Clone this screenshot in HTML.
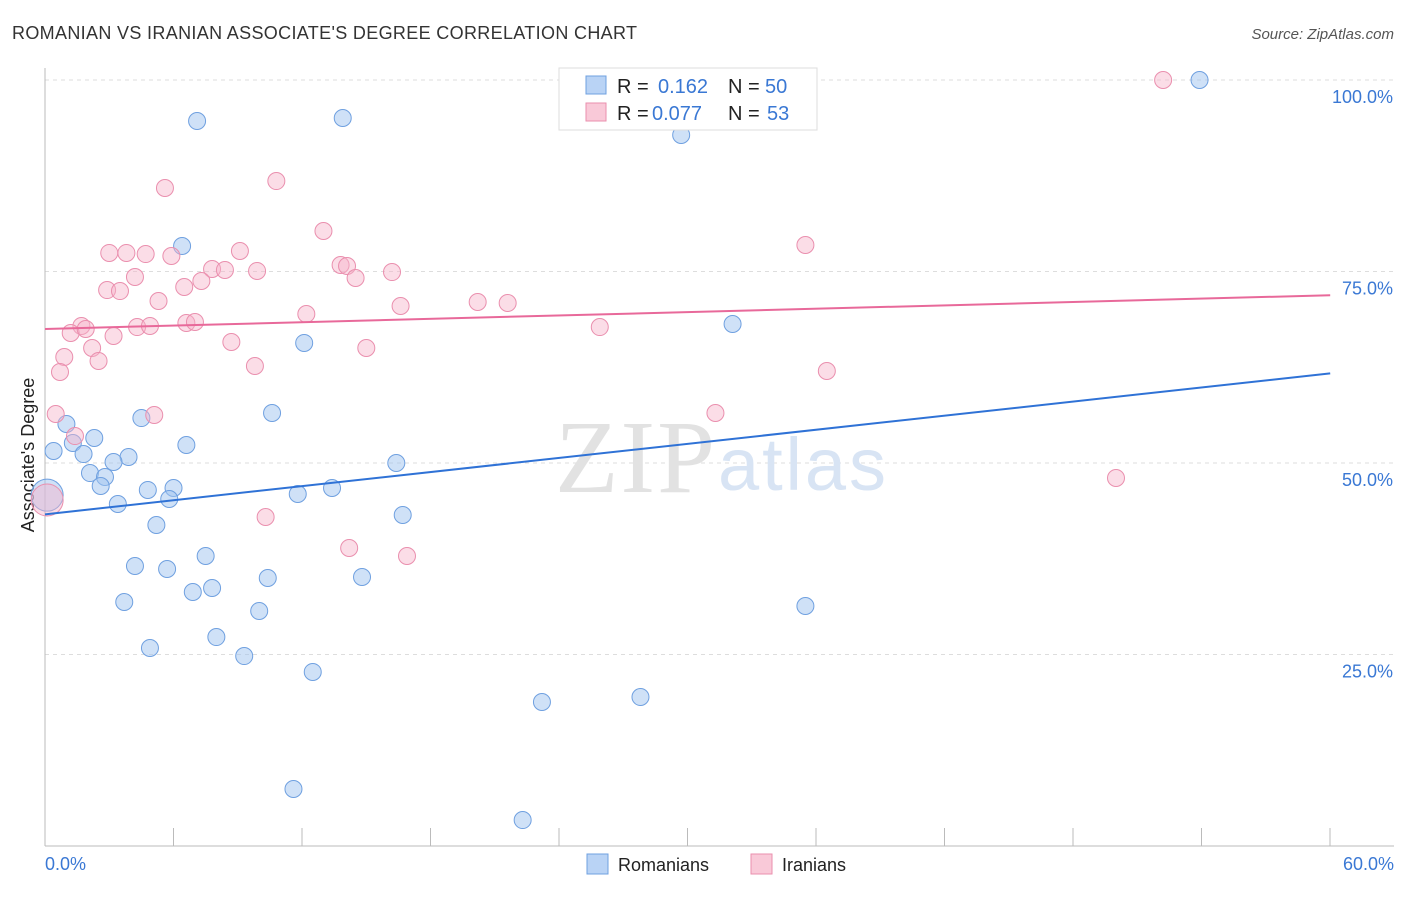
<!DOCTYPE html>
<html><head><meta charset="utf-8"><style>
body{margin:0;background:#fff;font-family:"Liberation Sans",sans-serif;}
</style></head><body>
<svg width="1406" height="892" xmlns="http://www.w3.org/2000/svg" style="font-family:'Liberation Sans',sans-serif">
<text x="12" y="39" font-size="18" fill="#333" textLength="625">ROMANIAN VS IRANIAN ASSOCIATE'S DEGREE CORRELATION CHART</text>
<text x="1394" y="39" font-size="15" fill="#555" text-anchor="end" font-style="italic">Source: ZipAtlas.com</text>
<g id="grid"></g>
<line x1="45" y1="68" x2="45" y2="846" stroke="#bbb"/>
<line x1="45" y1="846" x2="1394" y2="846" stroke="#bbb"/>
<text x="555" y="492" font-size="104" fill="#e2e2e2" font-family="Liberation Serif,serif" textLength="160">ZIP</text>
<text x="718" y="490" font-size="74" fill="#d8e4f4" textLength="168">atlas</text>
<text transform="translate(34,455) rotate(-90)" font-size="18" fill="#222" text-anchor="middle">Associate's Degree</text>
<text x="45" y="870" font-size="18" fill="#3a78d4">0.0%</text>
<text x="1394" y="870" font-size="18" fill="#3a78d4" text-anchor="end">60.0%</text>
<g id="marks"></g>
<g>
<rect x="559" y="68" width="258" height="62" fill="#fff" stroke="#ddd"/>
<rect x="586" y="76" width="20" height="18" fill="#b9d3f5" stroke="#6fa0e0"/>
<text x="617" y="93" font-size="20" fill="#222">R =</text>
<text x="658" y="93" font-size="20" fill="#3a78d4">0.162</text>
<text x="728" y="93" font-size="20" fill="#222">N =</text>
<text x="765" y="93" font-size="20" fill="#3a78d4">50</text>
<rect x="586" y="103" width="20" height="18" fill="#f9c9d8" stroke="#ea8fae"/>
<text x="617" y="120" font-size="20" fill="#222">R =</text>
<text x="652" y="120" font-size="20" fill="#3a78d4">0.077</text>
<text x="728" y="120" font-size="20" fill="#222">N =</text>
<text x="767" y="120" font-size="20" fill="#3a78d4">53</text>
</g>
<g>
<rect x="587" y="854" width="21" height="20" fill="#b9d3f5" stroke="#6fa0e0"/>
<text x="618" y="871" font-size="18" fill="#222">Romanians</text>
<rect x="751" y="854" width="21" height="20" fill="#f9c9d8" stroke="#ea8fae"/>
<text x="782" y="871" font-size="18" fill="#222">Iranians</text>
</g>
</svg>
<script>
const yTicks=[25,50,75,100];
const yTickLabels=["25.0%","50.0%","75.0%","100.0%"];
const romX=[7.1,13.9,29.7,53.9,6.4,12.1,32.1,10.6,4.5,1.0,0.4,1.3,2.3,1.8,3.9,3.2,6.6,16.4,2.1,2.8,2.6,4.8,6.0,5.8,11.8,13.4,3.4,16.7,5.2,7.5,4.2,5.7,10.4,14.8,6.9,7.8,3.7,10.0,35.5,8.0,4.9,9.3,12.5,23.2,27.8,11.6,22.3,0.1];
const romY=[94.65,95.04,92.82,100,78.33,65.67,68.15,56.53,55.87,55.09,51.57,52.61,53.26,51.17,50.78,50.13,52.35,50.0,48.69,48.17,47.0,46.48,46.74,45.3,45.95,46.74,44.65,43.21,41.91,37.86,36.55,36.16,34.99,35.12,33.16,33.68,31.85,30.68,31.33,27.28,25.85,24.8,22.72,18.8,19.45,7.44,3.39,45.8];
const iraX=[52.2,5.6,10.8,13.0,35.5,3.0,3.8,4.7,5.9,9.1,4.2,7.8,8.4,9.9,13.8,14.1,14.5,16.2,2.9,3.5,6.5,7.3,5.3,20.2,21.6,16.6,12.2,1.7,1.2,1.9,3.2,4.3,4.9,6.6,7.0,25.9,8.7,2.2,15.0,0.9,2.5,9.8,0.7,36.5,0.5,5.1,31.3,1.4,10.3,14.2,16.9,50.0,0.1];
const iraY=[100,85.9,86.81,80.29,78.46,77.42,77.42,77.28,77.02,77.68,74.28,75.33,75.2,75.07,75.85,75.72,74.15,74.93,72.58,72.45,72.98,73.76,71.15,71.02,70.89,70.5,69.45,67.89,66.97,67.49,66.58,67.75,67.89,68.28,68.41,67.75,65.8,65.01,65.01,63.84,63.32,62.66,61.88,62.01,56.4,56.27,56.53,53.52,42.95,38.9,37.86,48.04,45.17];
const romTrend=[43.3,61.7], iraTrend=[67.5,71.9];
const X=v=>45+v*21.42, Y=v=>846-v*7.66;
const ns="http://www.w3.org/2000/svg";
const grid=document.getElementById('grid'), marks=document.getElementById('marks'), svg=document.querySelector('svg');
yTicks.forEach((t,i)=>{
 const l=document.createElementNS(ns,'line');
 l.setAttribute('x1',45);l.setAttribute('x2',1394);l.setAttribute('y1',Y(t));l.setAttribute('y2',Y(t));
 l.setAttribute('stroke','#ddd');l.setAttribute('stroke-dasharray','4,4');
 
 
 grid.appendChild(l);
 const tx=document.createElementNS(ns,'text');
 tx.setAttribute('x',1393);tx.setAttribute('y',Y(t)+23);tx.setAttribute('text-anchor','end');
 tx.setAttribute('font-size','18');tx.setAttribute('fill','#3a78d4');tx.textContent=yTickLabels[i];
 
 
 svg.appendChild(tx);
});
for(let i=1;i<=10;i++){
 const l=document.createElementNS(ns,'line');
 const x=45+i*128.5;
 l.setAttribute('x1',x);l.setAttribute('x2',x);l.setAttribute('y1',828);l.setAttribute('y2',846);l.setAttribute('stroke','#bbb');
 
 
 grid.appendChild(l);
}
function pts(xs,ys,fill,stroke,name){
 xs.forEach((x,i)=>{
  const c=document.createElementNS(ns,'circle');
  const big=(i===xs.length-1&&x<0.5);
  c.setAttribute('cx',X(x));c.setAttribute('cy',Y(ys[i]));c.setAttribute('r',big?16:8.5);
  c.setAttribute('fill',fill);c.setAttribute('stroke',stroke);c.setAttribute('stroke-width','1');
  
  
  marks.appendChild(c);
 });
}
pts(romX,romY,'rgba(160,196,240,0.5)','#6fa0e0','romanian-point');
pts(iraX,iraY,'rgba(246,180,202,0.45)','#ea8fae','iranian-point');
function trend(v,col,name){
 const l=document.createElementNS(ns,'line');
 l.setAttribute('x1',X(0));l.setAttribute('x2',X(60));l.setAttribute('y1',Y(v[0]));l.setAttribute('y2',Y(v[1]));
 l.setAttribute('stroke',col);l.setAttribute('stroke-width','2');
 
 
 marks.appendChild(l);
}
trend(romTrend,'#2f72d6','romanian-trend-line');
trend(iraTrend,'#e8699a','iranian-trend-line');
</script>
</body></html>
